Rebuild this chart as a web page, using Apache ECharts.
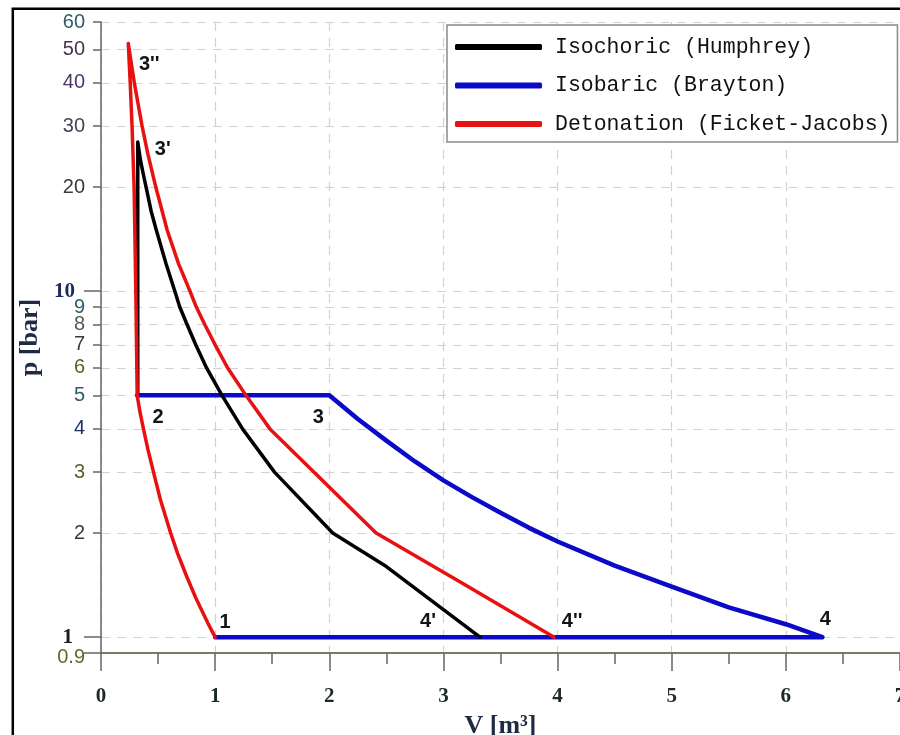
<!DOCTYPE html>
<html>
<head>
<meta charset="utf-8">
<script src="https://cdn.jsdelivr.net/npm/echarts@6/dist/echarts.min.js"></script>
<style>
  html, body { margin: 0; padding: 0; background: #fff; }
  #chart { width: 900px; height: 735px; }
</style>
</head>
<body>
<div id="chart"></div>
<script>
// Isochoric (Humphrey) cycle: 2 -> 3' (constant volume) -> 4' (expansion)
const humphreyV = [0.322, 0.322, 0.345, 0.368, 0.395, 0.44, 0.485, 0.57, 0.647, 0.69, 0.755, 0.83, 0.925, 1.06, 1.24, 1.52, 2.03, 2.50, 3.32];
const humphreyP = [5, 27, 24, 22, 20, 17, 15, 12, 10, 9, 8, 7, 6, 5, 4, 3, 2, 1.6, 1];

// Isobaric (Brayton) cycle: 2 -> 3 (constant pressure) -> 4 (expansion) -> 1
const braytonV = [0.317, 2.0, 2.25, 2.5, 2.75, 3.0, 3.25, 3.5, 3.75, 4.0, 4.5, 5.0, 5.5, 6.0, 6.32, 1.0];
const braytonP = [5, 5, 4.27, 3.70, 3.22, 2.84, 2.54, 2.29, 2.07, 1.89, 1.61, 1.40, 1.22, 1.09, 1, 1];

// Detonation (Fickett-Jacobs) cycle: 1 -> 2 (compression) -> 3'' (detonation) -> 4'' (expansion)
const detonationV = [1.0, 0.935, 0.88, 0.83, 0.75, 0.67, 0.61, 0.52, 0.46, 0.41, 0.372, 0.34, 0.317,
                     0.305, 0.29, 0.272, 0.256, 0.239,
                     0.292, 0.36, 0.41, 0.48, 0.58, 0.68, 0.78, 0.835, 0.91, 1.0, 1.11, 1.27, 1.48, 2.41, 3.20, 3.97];
const detonationP = [1, 1.1, 1.2, 1.3, 1.5, 1.75, 2, 2.5, 3, 3.5, 4, 4.5, 5,
                     10, 20, 30, 40, 52,
                     40, 30, 25, 20, 15, 12, 10, 9, 8, 7, 6, 5, 4, 2, 1.41, 1];

// Named state points
const stateNames = ['1', '2', '3', "3'", "3''", '4', "4'", "4''"];
const stateV = [1.0, 0.317, 2.0, 0.322, 0.239, 6.32, 3.32, 3.97];
const stateP = [1, 5, 5, 27, 52, 1, 1, 1];

// Axis ticks
const xTicks = [0, 1, 2, 3, 4, 5, 6, 7];
const yTicks = [0.9, 1, 2, 3, 4, 5, 6, 7, 8, 9, 10, 20, 30, 40, 50, 60];
const yLongTicks = [0.9, 1, 10];

const seriesNames = ['Isochoric (Humphrey)', 'Isobaric (Brayton)', 'Detonation (Ficket-Jacobs)'];

// label placement around each state point (pixels)
const stateLabelOffset = {
  '1': [10, -15], '2': [21, 22], '3': [-11, 22], "3'": [25, 8],
  "3''": [21, 21], '4': [3, -18], "4'": [-52, -16], "4''": [18, -16]
};

const yLabelColor = ['#5b6a2a', '#1c1c1c', '#3b3b2a', '#55602e', '#1f2c6a', '#2d5d68', '#56622c', '#3a3a3a',
                     '#4d5d4a', '#2d5d68', '#1f2c5a', '#3a3a3a', '#4a4058', '#4b3868', '#463450', '#2f5b6b'];

const pair = (xs, ys) => xs.map((v, i) => [v, ys[i]]);
const tickIndex = v => {
  let best = 0;
  yTicks.forEach((t, i) => { if (Math.abs(Math.log(t) - Math.log(v)) < Math.abs(Math.log(yTicks[best]) - Math.log(v))) best = i; });
  return best;
};

// nudge the bottom tick just inside the log extent so rounding never drops it
const yTickValues = yTicks.map((t, i) => (i === 0 ? t * 1.00001 : t));
const yLongTickValues = yLongTicks.map(t => (t === yTicks[0] ? t * 1.00001 : t));

const yRich = {};
yTicks.forEach((t, i) => {
  const serifBold = (t === 10 || t === 1);
  yRich['t' + i] = {
    fontFamily: serifBold ? '"Liberation Serif", "Times New Roman", serif' : '"Liberation Sans", Arial, sans-serif',
    fontWeight: serifBold ? 'bold' : 'normal',
    fontSize: serifBold ? 21 : 20,
    color: yLabelColor[i],
    padding: serifBold ? [0, (t === 1 ? 12 : 10), 0, 0] : (t === 0.9 ? [9, 0, 0, 0] : 0)
  };
});

const chart = echarts.init(document.getElementById('chart'), null, { renderer: 'canvas' });

chart.setOption({
  backgroundColor: '#fff',
  animation: false,
  graphic: [{
    type: 'rect',
    shape: { x: 12.8, y: 8.7, width: 1000, height: 1000 },
    style: { fill: 'none', stroke: '#000', lineWidth: 2.5 },
    silent: true,
    z: 10
  }],
  grid: { left: 101, right: 0, top: 22, bottom: 82, outerBoundsMode: 'none', containLabel: false },
  legend: {
    data: seriesNames,
    orient: 'vertical',
    left: 447,
    top: 25,
    padding: [11, 7, 7, 8],
    itemWidth: 87,
    itemHeight: 6,
    itemGap: 16.5,
    icon: 'roundRect',
    backgroundColor: '#fff',
    borderColor: '#8a8a8a',
    borderWidth: 1.5,
    selectedMode: false,
    textStyle: {
      fontFamily: '"Liberation Mono", "Courier New", monospace',
      fontSize: 21.5,
      lineHeight: 22,
      color: '#111',
      padding: [0, 0, 0, 8]
    }
  },
  xAxis: {
    type: 'value',
    min: xTicks[0],
    max: xTicks[xTicks.length - 1],
    interval: 1,
    name: 'V [m³]',
    nameLocation: 'middle',
    nameGap: 60,
    nameTextStyle: {
      fontFamily: '"Liberation Serif", "Times New Roman", serif',
      fontWeight: 'bold', fontSize: 26, color: '#1f2a44'
    },
    axisLine: { show: true, lineStyle: { color: '#7a7a66', width: 2 } },
    axisTick: { show: true, length: 18, lineStyle: { color: '#666', width: 1.5 } },
    minorTick: { show: true, splitNumber: 2, length: 11, lineStyle: { color: '#666', width: 1.5 } },
    axisLabel: {
      margin: 33,
      fontFamily: '"Liberation Serif", "Times New Roman", serif',
      fontWeight: 'bold', fontSize: 21, color: '#1f2a26'
    },
    splitLine: { show: true, lineStyle: { color: '#d2d2d2', type: [9, 7], width: 1.2 } }
  },
  yAxis: [{
    type: 'log',
    logBase: 10,
    min: yTicks[0],
    max: yTicks[yTicks.length - 1],
    name: 'p [bar]',
    nameLocation: 'middle',
    nameGap: 53,
    nameRotate: 90,
    nameTextStyle: {
      fontFamily: '"Liberation Serif", "Times New Roman", serif',
      fontWeight: 'bold', fontSize: 26, color: '#1f2a44'
    },
    axisLine: { show: true, lineStyle: { color: '#666', width: 1.5 } },
    axisTick: { show: true, length: 8, customValues: yTickValues, lineStyle: { color: '#666', width: 1.5 } },
    axisLabel: {
      customValues: yTickValues,
      margin: 16,
      hideOverlap: false,
      showMinLabel: true,
      formatter: v => {
        const i = tickIndex(v);
        return '{t' + i + '|' + yTicks[i] + '}';
      },
      rich: yRich
    },
    splitLine: { show: true, lineStyle: { color: '#d2d2d2', type: [9, 7], width: 1.2 } }
  }, {
    type: 'log',
    logBase: 10,
    min: yTicks[0],
    max: yTicks[yTicks.length - 1],
    position: 'left',
    axisLine: { show: false },
    axisLabel: { show: false },
    splitLine: { show: false },
    axisTick: { show: true, length: 17, customValues: yLongTickValues, lineStyle: { color: '#666', width: 1.5 } }
  }],
  series: [
    {
      name: seriesNames[0],
      type: 'line',
      data: pair(humphreyV, humphreyP),
      symbol: 'none',
      z: 3,
      color: '#000000',
      lineStyle: { color: '#000000', width: 3.5, join: 'round', cap: 'round' }
    },
    {
      name: seriesNames[1],
      type: 'line',
      data: pair(braytonV, braytonP),
      symbol: 'none',
      z: 2,
      color: '#0a0ac8',
      lineStyle: { color: '#0a0ac8', width: 4.5, join: 'round', cap: 'round' }
    },
    {
      name: seriesNames[2],
      type: 'line',
      data: pair(detonationV, detonationP),
      symbol: 'none',
      z: 4,
      color: '#e81010',
      lineStyle: { color: '#e81010', width: 3.5, join: 'round', cap: 'round' }
    },
    {
      name: 'states',
      type: 'scatter',
      symbolSize: 0,
      silent: true,
      z: 6,
      itemStyle: { color: '#111' },
      data: stateNames.map((n, i) => ({
        name: n,
        value: [stateV[i], stateP[i]],
        label: { offset: stateLabelOffset[n] }
      })),
      label: {
        show: true,
        position: 'inside',
        formatter: p => p.name,
        fontFamily: '"Liberation Sans", Arial, sans-serif',
        fontWeight: 'bold',
        fontSize: 20,
        color: '#101418',
        opacity: 1,
        textBorderWidth: 0
      }
    }
  ]
});
</script>
</body>
</html>
